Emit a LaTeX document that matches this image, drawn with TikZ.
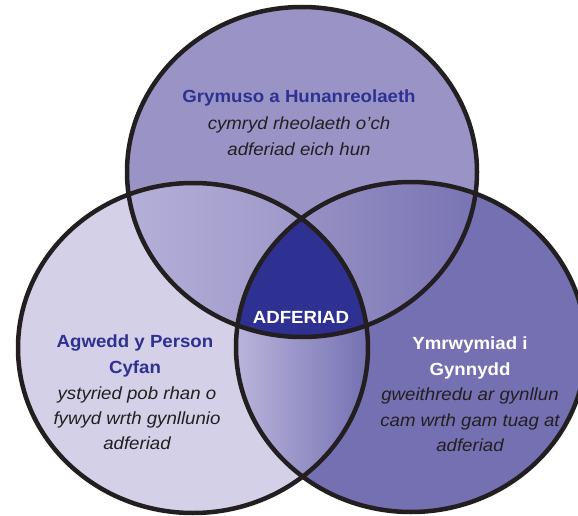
\documentclass[tikz,border=0pt]{standalone}
\usepackage{fontspec}
\setmainfont{Liberation Sans}[FakeStretch=1.06]
\definecolor{topc}{HTML}{9A94C6}
\definecolor{leftc}{HTML}{D3D0E8}
\definecolor{rightc}{HTML}{7470B2}
\definecolor{centc}{HTML}{2E3192}
\definecolor{tlA}{HTML}{B5B0D9}
\definecolor{tlB}{HTML}{9A94C6}
\definecolor{trA}{HTML}{9A94C6}
\definecolor{trB}{HTML}{7873B3}
\definecolor{bA}{HTML}{BAB5DB}
\definecolor{bB}{HTML}{7470B2}
\definecolor{strokec}{HTML}{231F20}
\definecolor{titlec}{HTML}{2E3192}
\definecolor{bodyc}{HTML}{231F20}
\tikzset{
  ring/.style={draw=strokec, line width=4.5pt},
  titletext/.style={font=\fontsize{17.6}{26}\selectfont\bfseries, text=titlec, align=center},
  bodytext/.style={font=\fontsize{17.6}{25.5}\selectfont\itshape, text=bodyc, align=center},
}
\begin{document}
\begin{tikzpicture}[x=1pt,y=-1pt]
\useasboundingbox (0,0) rectangle (578,516);
\clip (0,0) rectangle (578,516);
\coordinate (T) at (302,172);
\coordinate (L) at (193,348);
\coordinate (R) at (411,347);
\def\rx{175pt}
\def\ry{165pt}
% base fills
\fill[topc] (T) ellipse [x radius=\rx, y radius=\ry];
\fill[leftc] (L) ellipse [x radius=\rx, y radius=\ry];
\fill[rightc] (R) ellipse [x radius=\rx, y radius=\ry];
% top-left lens
\begin{scope}
\clip (T) ellipse [x radius=\rx, y radius=\ry];
\clip (L) ellipse [x radius=\rx, y radius=\ry];
\shade[left color=tlA, right color=tlB] (125,180) rectangle (330,345);
\end{scope}
% top-right lens
\begin{scope}
\clip (T) ellipse [x radius=\rx, y radius=\ry];
\clip (R) ellipse [x radius=\rx, y radius=\ry];
\shade[left color=trA, right color=trB] (280,180) rectangle (480,345);
\end{scope}
% bottom lens
\begin{scope}
\clip (L) ellipse [x radius=\rx, y radius=\ry];
\clip (R) ellipse [x radius=\rx, y radius=\ry];
\shade[left color=bA, right color=bB] (235,200) rectangle (370,485);
\end{scope}
% centre
\begin{scope}
\clip (T) ellipse [x radius=\rx, y radius=\ry];
\clip (L) ellipse [x radius=\rx, y radius=\ry];
\fill[centc] (R) ellipse [x radius=\rx, y radius=\ry];
\end{scope}
% strokes
\draw[ring] (T) ellipse [x radius=\rx, y radius=\ry];
\draw[ring] (L) ellipse [x radius=\rx, y radius=\ry];
\draw[ring] (R) ellipse [x radius=\rx, y radius=\ry];
% texts
\node[titletext, anchor=base] (ttitle) at (299,103) {Grymuso a Hunanreolaeth};
\node[bodytext, anchor=base] (tbody1) at (299,129) {cymryd rheolaeth o’ch};
\node[bodytext, anchor=base] (tbody2) at (299,155) {adferiad eich hun};
\node[titletext, anchor=base] (ltitle1) at (135,347) {Agwedd y Person};
\node[titletext, anchor=base] (ltitle2) at (135,373) {Cyfan};
\node[bodytext, anchor=base] (lbody1) at (137,399) {ystyried pob rhan o};
\node[bodytext, anchor=base] (lbody2) at (137,424) {fywyd wrth gynllunio};
\node[bodytext, anchor=base] (lbody3) at (137,449) {adferiad};
\node[titletext, text=white, anchor=base] (rtitle1) at (470,349) {Ymrwymiad i};
\node[titletext, text=white, anchor=base] (rtitle2) at (470,375) {Gynnydd};
\node[bodytext, anchor=base] (rbody1) at (470,400) {gweithredu ar gynllun};
\node[bodytext, anchor=base] (rbody2) at (470,426) {cam wrth gam tuag at};
\node[bodytext, anchor=base] (rbody3) at (470,451) {adferiad};
\node[titletext, text=white, anchor=base] (centre) at (301,323) {ADFERIAD};
\end{tikzpicture}
\end{document}
